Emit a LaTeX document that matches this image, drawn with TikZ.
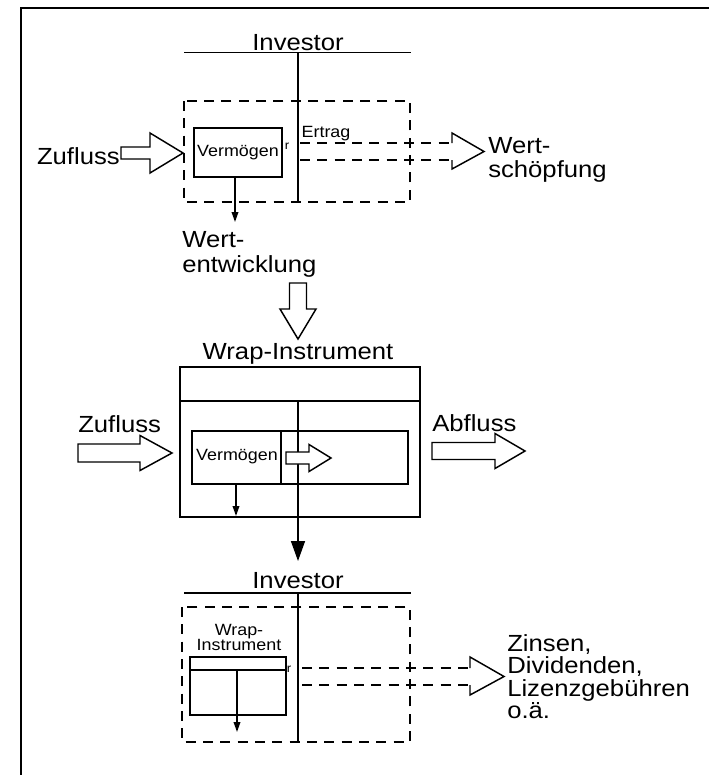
\documentclass[tikz,border=0pt]{standalone}
\usepackage{fontspec}
\setmainfont[FakeStretch=1.1]{Liberation Sans}
\usetikzlibrary{arrows.meta}
\tikzset{
  ln/.style={line width=1.1pt},
  dbox/.style={line width=1.2pt, dash pattern=on 7.5pt off 5.5pt},
  big/.style={font=\fontsize{17.5}{18}\selectfont, inner sep=0pt},
  small/.style={font=\fontsize{12.2}{11.3}\selectfont, inner sep=0pt},
  tiny/.style={font=\fontsize{9}{9}\selectfont, inner sep=0pt},
  tipS/.style={-{Triangle[length=7.5pt,width=5pt]}},
  tipB/.style={-{Triangle[length=15pt,width=10.5pt]}},
  pics/harrowR/.style args={#1/#2/#3/#4}{code={
    \draw[ln, fill=white, line join=miter] (0,-#2) -- (#3,-#2) -- (#3,-#4) -- (#1,0)
      -- (#3,#4) -- (#3,#2) -- (0,#2) -- cycle;}},
}
\begin{document}
\begin{tikzpicture}[x=0.75pt, y=-0.75pt]
\useasboundingbox (0,0) rectangle (709,775);
% frame
\draw[line width=1.6pt] (21,775) -- (21,7.8) -- (709,7.8);

% ---------- top section ----------
\node[big, anchor=base] (inv1) at (298,50) {Investor};
\coordinate (l1a) at (184,52.7); \coordinate (l1b) at (411,52.7);
\draw[ln] (l1a) -- (l1b);
\coordinate (v1t) at (298,52.7); \coordinate (v1b) at (298,202);
\draw[ln] (v1t) -- (v1b);
\draw[dbox] (184,101) rectangle (410,202);
\node[draw, ln, small, minimum width=66pt, minimum height=36.75pt] (verm1) at (238,152.5) {Vermögen};
\node[big, anchor=base east] (zu1) at (120,164) {Zufluss};
\pic at (121,153) {harrowR=62/6/29/20};
\node[small] (ertrag) at (326,134) {Ertrag};
\node[tiny] (r1) at (287,146) {r};
\coordinate (d1a) at (300,143); \coordinate (d1b) at (452,143);
\coordinate (d1c) at (300,160); \coordinate (d1d) at (452,160);
\draw[dbox] (d1a) -- (d1b);
\draw[dbox] (d1c) -- (d1d);
\draw[ln, line join=miter] (d1b) -- (452,133) -- (484,151.5) -- (452,169) -- (d1d);
\node[big, anchor=base west] (ws1) at (488,153) {Wert-};
\node[big, anchor=base west] (ws2) at (488,177) {schöpfung};
\coordinate (a1e) at (235,222);
\draw[ln, tipS] (verm1.south -| a1e) -- (a1e);
\node[big, anchor=base west] (we1) at (182,247) {Wert-};
\node[big, anchor=base west] (we2) at (182,272) {entwicklung};
\pic[rotate=-90] at (298,283) {harrowR=56/8.5/26/18};

% ---------- middle section ----------
\node[big, anchor=base] (wrap) at (298,359) {Wrap-Instrument};
\draw[ln] (180,367) rectangle (420,517);
\draw[ln] (180,401) -- (420,401);
\draw[ln] (192,431) rectangle (408,484);
\draw[ln] (281,431) -- (281,484);
\node[small] (verm2) at (237,457) {Vermögen};
\coordinate (v2t) at (298,401); \coordinate (v2b) at (298,561);
\draw[ln, tipB] (v2t) -- (v2b);
\pic at (286,458) {harrowR=45/6/23/13.5};
\coordinate (a2s) at (236,484); \coordinate (a2e) at (236,516);
\draw[ln, tipS] (a2s) -- (a2e);
\node[big, anchor=base west] (zu2) at (78,432) {Zufluss};
\pic at (78,453) {harrowR=94/9/62/17.5};
\node[big, anchor=base west] (ab) at (432,431) {Abfluss};
\pic at (432,451) {harrowR=93/8.5/63/17.5};

% ---------- bottom section ----------
\node[big, anchor=base] (inv2) at (298,588) {Investor};
\coordinate (l2a) at (184,593); \coordinate (l2b) at (411,593);
\draw[ln] (l2a) -- (l2b);
\coordinate (v3t) at (298,593); \coordinate (v3b) at (298,742);
\draw[ln] (v3t) -- (v3b);
\draw[dbox] (182,607) rectangle (410,742);
\node[small, align=center] (wi) at (239,637.5) {Wrap-\\Instrument};
\draw[ln] (190,657) rectangle (286,715);
\draw[ln] (190,670) -- (286,670);
\coordinate (a3s) at (237,670); \coordinate (a3e) at (237,732);
\draw[ln, tipS] (a3s) -- (a3e);
\node[tiny] (r2) at (289,669) {r};
\coordinate (d2a) at (302,668); \coordinate (d2b) at (470,668);
\coordinate (d2c) at (302,685); \coordinate (d2d) at (470,685);
\draw[dbox] (d2a) -- (d2b);
\draw[dbox] (d2c) -- (d2d);
\draw[ln, line join=miter] (d2b) -- (470,657) -- (504,676.5) -- (470,695) -- (d2d);
\node[big, anchor=base west] (z1) at (507,651) {Zinsen,};
\node[big, anchor=base west] (z2) at (507,673.5) {Dividenden,};
\node[big, anchor=base west] (z3) at (507,696) {Lizenzgebühren};
\node[big, anchor=base west] (z4) at (507,718.5) {o.ä.};
\end{tikzpicture}
\end{document}
